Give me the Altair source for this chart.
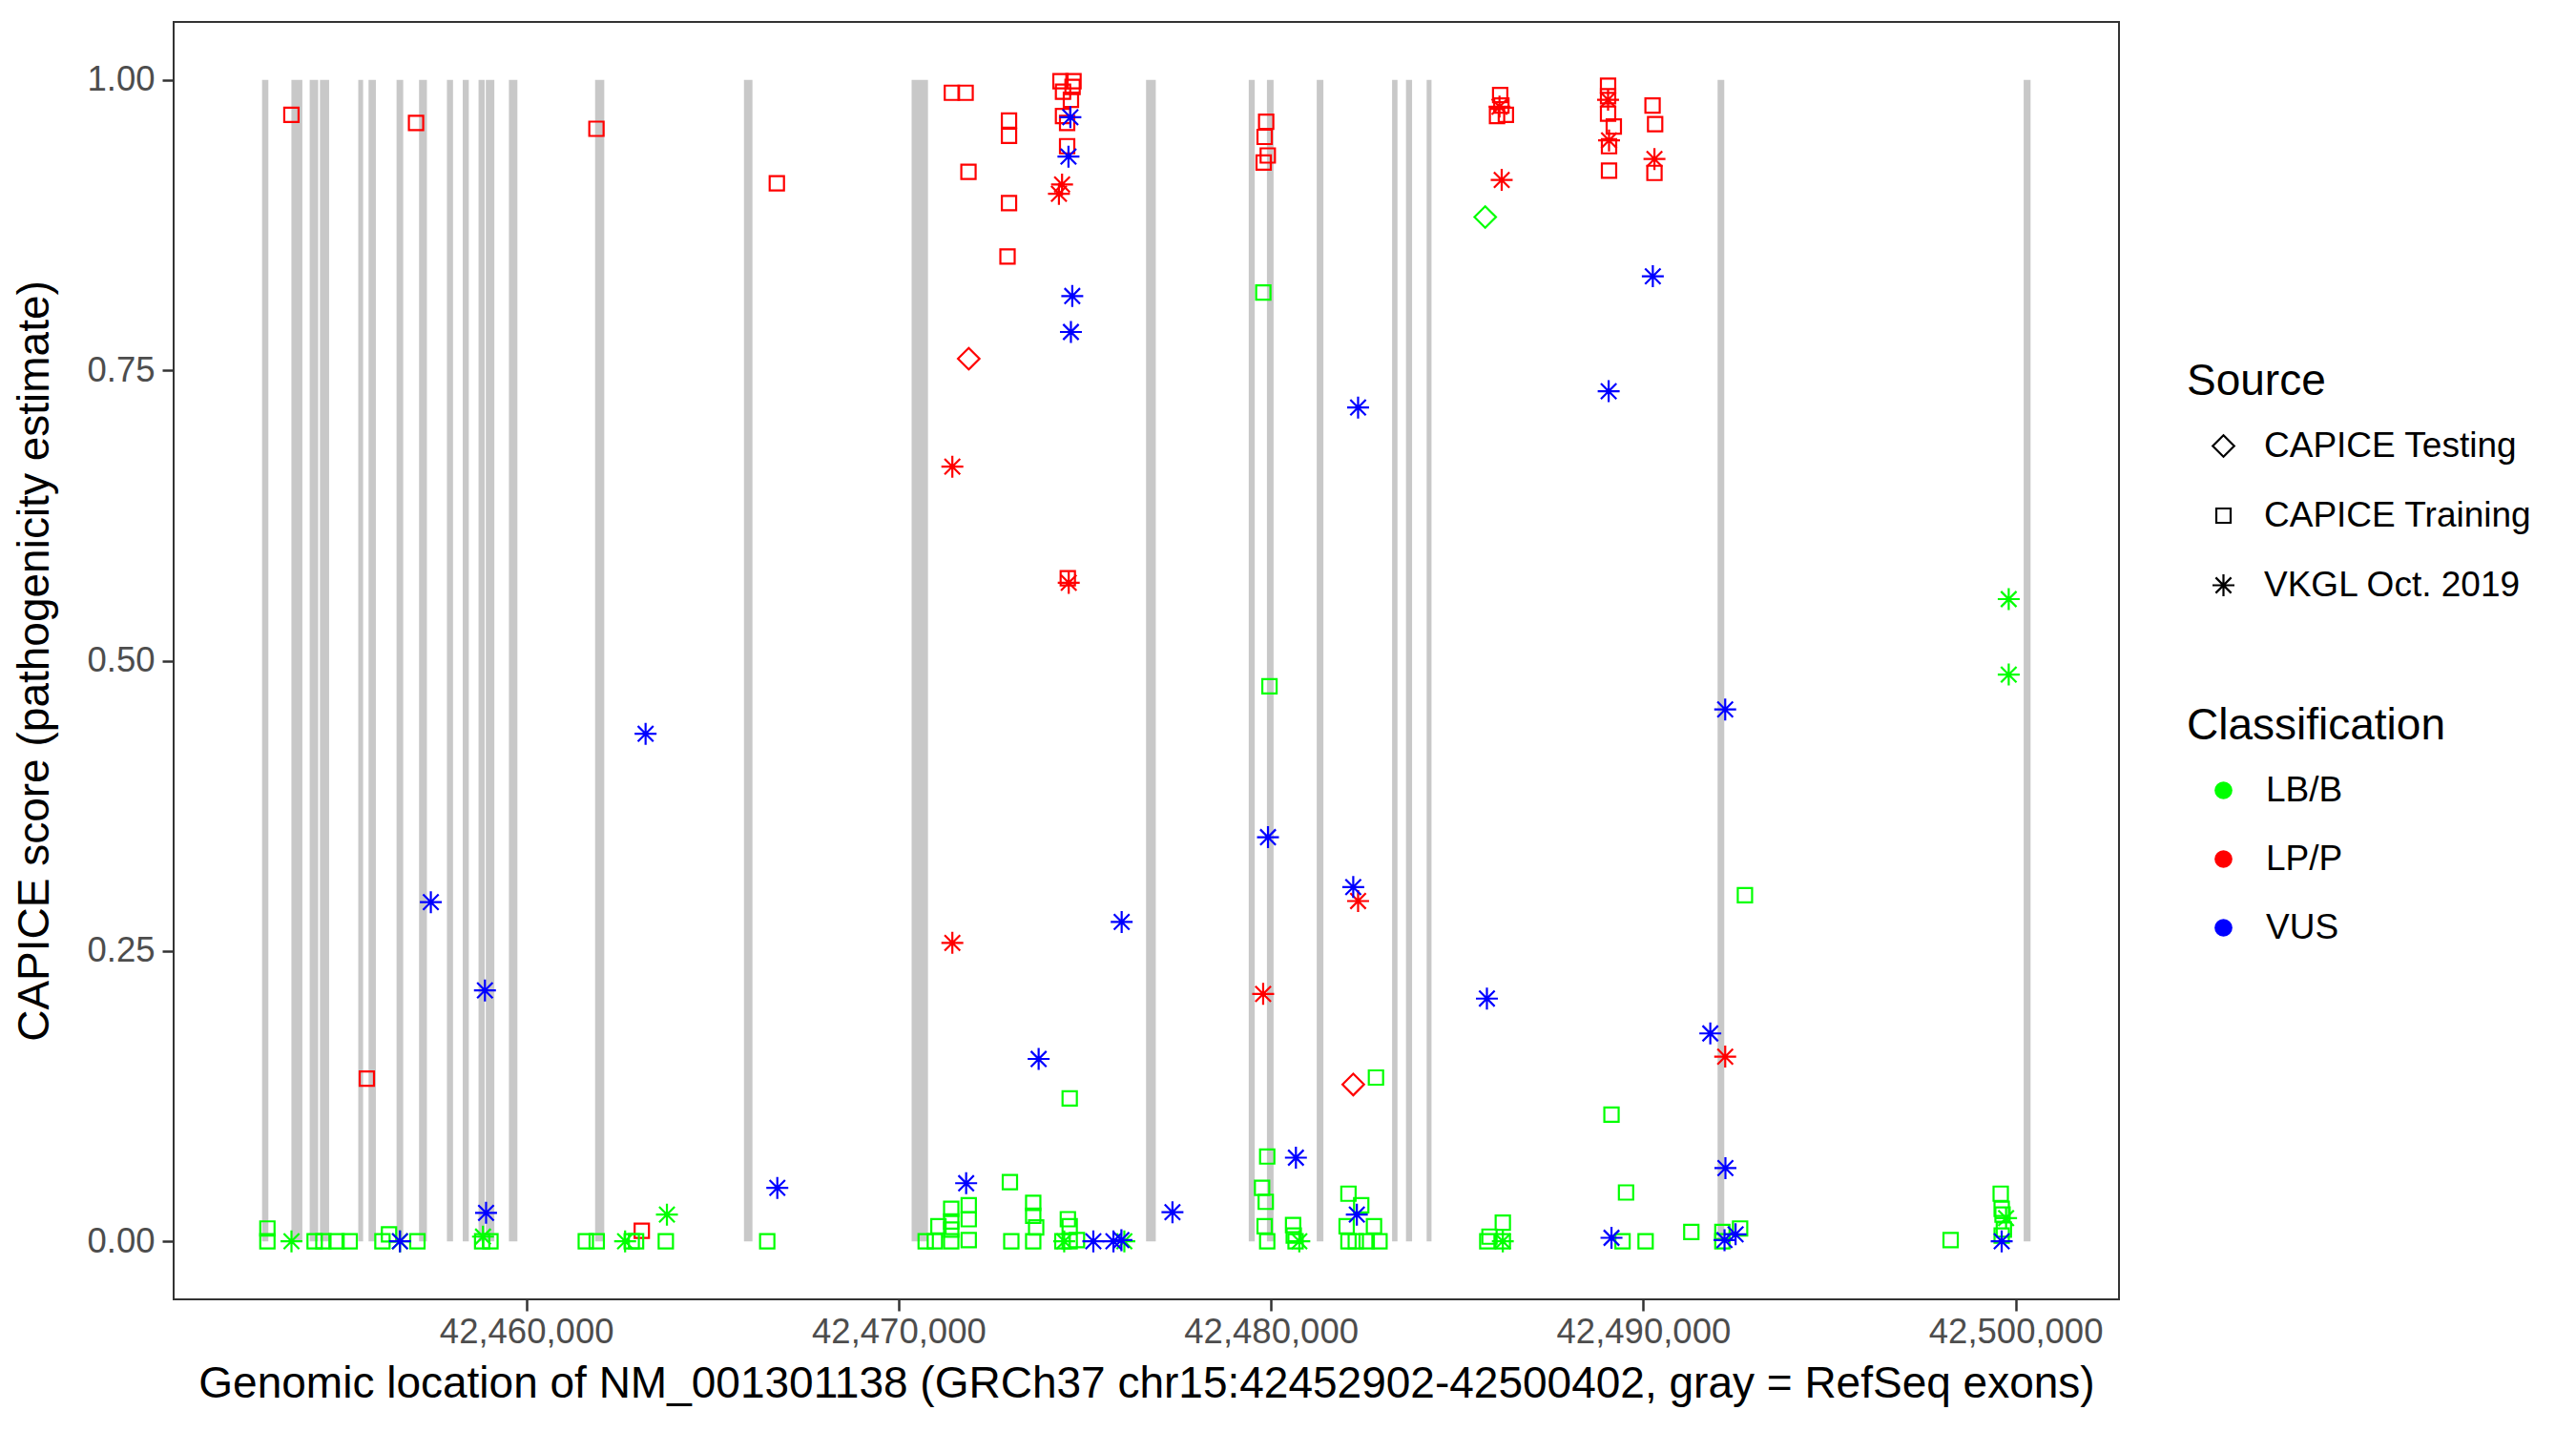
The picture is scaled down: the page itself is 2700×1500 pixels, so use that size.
import altair as alt
import pandas as pd

# ---- exons (RefSeq, gray bars) ----
exon_start = [42452902, 42453690, 42454181, 42454457, 42455486, 42455762, 42456514, 42457118,
              42457867, 42458292, 42458716, 42458911, 42459532, 42461847, 42465845, 42470348,
              42476645, 42479403, 42479891, 42481229, 42483253, 42483626, 42484181, 42491996,
              42500217]
exon_end = [42453071, 42453984, 42454409, 42454703, 42455616, 42455959, 42456693, 42457330,
            42458031, 42458455, 42458880, 42459141, 42459760, 42462093, 42466073, 42470788,
            42476906, 42479564, 42480070, 42481408, 42483398, 42483790, 42484312, 42492175,
            42500402]

# ---- CAPICE Training, LP/P ----
tr_lpp_pos = [42453690, 42457038, 42461883, 42466728, 42455716, 42463101,
              42471430, 42471798, 42472964, 42472964, 42471875, 42472964, 42472924,
              42474346, 42474696, 42474415, 42474671, 42474627, 42474415, 42474525, 42474525,
              42474543,
              42479871, 42479830, 42479914, 42479804,
              42486156, 42486189, 42486072, 42486309,
              42489054, 42489054, 42489054, 42489208, 42489080, 42489080,
              42490249, 42490318, 42490300]
tr_lpp_score = [0.970, 0.963, 0.958, 0.911, 0.140, 0.009,
                0.989, 0.989, 0.965, 0.952, 0.921, 0.894, 0.848,
                0.999, 0.999, 0.990, 0.994, 0.983, 0.969, 0.963, 0.943,
                0.571,
                0.964, 0.951, 0.935, 0.929,
                0.987, 0.978, 0.969, 0.970,
                0.995, 0.986, 0.971, 0.960, 0.943, 0.922,
                0.978, 0.962, 0.920]

# ---- CAPICE Training, LB/B ----
tr_lbb_pos = [42453045, 42453045, 42454314, 42454549, 42454902, 42455255, 42456135, 42456312,
              42457074, 42458813, 42459036, 42461597, 42461891, 42462830, 42462947, 42463746,
              42466470,
              42470726, 42470972, 42471069, 42471412, 42471412, 42471412, 42471412, 42471882,
              42471882, 42471882, 42472988, 42473026, 42473614, 42473614, 42473693, 42473614,
              42474545, 42474594, 42474397, 42474594, 42474789,
              42479899, 42479761, 42479860, 42479830, 42479899,
              42480594, 42480612, 42480661,
              42482081, 42482424, 42482032, 42482767, 42482081, 42482278, 42482572, 42482915,
              42474594, 42479794, 42479960, 42482820, 42492730, 42489146,
              42485810, 42485869, 42486227, 42486227, 42489537, 42489443, 42490062, 42491290,
              42492124, 42492124, 42492600, 42498255, 42499600, 42499626, 42499649, 42499685,
              42499626]
tr_lbb_score = [0.011, 0.0, 0.0, 0.0, 0.0, 0.0, 0.0, 0.006,
                0.0, 0.0, 0.0, 0.0, 0.0, 0.0, 0.0, 0.0,
                0.0,
                0.0, 0.0, 0.013, 0.028, 0.017, 0.010, 0.0, 0.031,
                0.019, 0.001, 0.051, 0.0, 0.033, 0.022, 0.012, 0.0,
                0.019, 0.013, 0.0, 0.0, 0.001,
                0.073, 0.046, 0.034, 0.013, 0.0,
                0.014, 0.005, 0.0,
                0.041, 0.031, 0.013, 0.013, 0.0, 0.0, 0.0, 0.0,
                0.123, 0.817, 0.478, 0.141, 0.298, 0.109,
                0.0, 0.004, 0.016, 0.0, 0.042, 0.0, 0.0, 0.008,
                0.0, 0.008, 0.011, 0.001, 0.041, 0.028, 0.023, 0.010,
                0.005]

# ---- VKGL Oct. 2019, LP/P ----
vk_lpp_pos = [42474389, 42474305, 42474568, 42471442, 42471442, 42479790, 42482340,
              42486138, 42486197, 42489054, 42489080, 42490300, 42492200]
vk_lpp_score = [0.910, 0.902, 0.567, 0.667, 0.257, 0.213, 0.293,
                0.977, 0.914, 0.983, 0.948, 0.932, 0.159]

# ---- VKGL Oct. 2019, LB/B ----
vk_lbb_pos = [42453692, 42456606, 42458836, 42462653, 42463776, 42474446, 42476062,
              42480761, 42486227, 42499744, 42499815, 42499815]
vk_lbb_score = [0.0, 0.0, 0.004, 0.0, 0.023, 0.0, 0.0,
                0.0, 0.0, 0.020, 0.553, 0.488]

# ---- VKGL Oct. 2019, VUS ----
vk_vus_pos = [42456606, 42457435, 42458888, 42458918, 42463203, 42466741, 42471813, 42473760,
              42474612, 42474561, 42474663, 42474627, 42475229, 42475769, 42475983, 42475990,
              42477354, 42479920, 42480670, 42482340, 42482210, 42482306, 42485800, 42489070,
              42490256, 42489146, 42491800, 42492200, 42492206, 42492182, 42492479, 42499626]
vk_vus_score = [0.0, 0.292, 0.216, 0.0245, 0.437, 0.046, 0.050, 0.157,
                0.968, 0.934, 0.814, 0.783, 0.0, 0.0, 0.001, 0.275,
                0.025, 0.348, 0.072, 0.718, 0.305, 0.023, 0.209, 0.732,
                0.831, 0.003, 0.179, 0.458, 0.063, 0.001, 0.006, 0.0]

# ---- CAPICE Testing ----
te_lpp_pos = [42471882, 42482210]
te_lpp_score = [0.760, 0.135]
te_lbb_pos = [42485754]
te_lbb_score = [0.882]

src_names = ["CAPICE Testing", "CAPICE Training", "VKGL Oct. 2019"]
cls_names = ["LB/B", "LP/P", "VUS"]
cls_colors = ["#00FF00", "#FF0000", "#0000FF"]

groups = [
    (tr_lpp_pos, tr_lpp_score, "CAPICE Training", "LP/P"),
    (tr_lbb_pos, tr_lbb_score, "CAPICE Training", "LB/B"),
    (vk_lpp_pos, vk_lpp_score, "VKGL Oct. 2019", "LP/P"),
    (vk_lbb_pos, vk_lbb_score, "VKGL Oct. 2019", "LB/B"),
    (vk_vus_pos, vk_vus_score, "VKGL Oct. 2019", "VUS"),
    (te_lpp_pos, te_lpp_score, "CAPICE Testing", "LP/P"),
    (te_lbb_pos, te_lbb_score, "CAPICE Testing", "LB/B"),
]
rows = []
for p, s, src, cls in groups:
    for a, b in zip(p, s):
        rows.append({"pos": a, "score": b, "source": src, "cls": cls, "Classification": cls})
df = pd.DataFrame(rows)
exon_df = pd.DataFrame({"start": exon_start, "end": exon_end,
                        "lo": [0.0] * len(exon_start), "hi": [1.0] * len(exon_start)})

FONT = "Liberation Sans"
x_scale = alt.Scale(domain=[42450527, 42502777], nice=False, zero=False)
y_scale = alt.Scale(domain=[-0.05, 1.05], nice=False, zero=False)
x_axis = alt.Axis(values=[42460000, 42470000, 42480000, 42490000, 42500000], format=",d",
                  labelPadding=4, titlePadding=14, labelLimit=1000)
y_axis = alt.Axis(values=[0, 0.25, 0.5, 0.75, 1.0], format=".2f", labelPadding=8, titlePadding=30)
x_title = "Genomic location of NM_001301138 (GRCh37 chr15:42452902-42500402, gray = RefSeq exons)"
y_title = "CAPICE score (pathogenicity estimate)"

diamond = "M0,-0.98L0.98,0L0,0.98L-0.98,0Z"
square = "M-0.652,-0.652L0.652,-0.652L0.652,0.652L-0.652,0.652Z"
asterisk = "M-1,0L1,0M0,-1L0,1M-0.707,-0.707L0.707,0.707M-0.707,0.707L0.707,-0.707"

exons = alt.Chart(exon_df).mark_rect(color="#C8C8C8").encode(
    x=alt.X("start:Q", scale=x_scale, axis=x_axis, title=x_title),
    x2="end:Q",
    y=alt.Y("lo:Q", scale=y_scale, axis=y_axis, title=y_title),
    y2="hi:Q",
)

pts = alt.Chart(df).mark_point(filled=False, size=529, strokeWidth=2.2, opacity=1).encode(
    x=alt.X("pos:Q", scale=x_scale),
    y=alt.Y("score:Q", scale=y_scale),
    shape=alt.Shape("source:N",
                    scale=alt.Scale(domain=src_names, range=[diamond, square, asterisk]),
                    legend=alt.Legend(title="Source", orient="none", legendX=2110, legendY=355,
                                      symbolSize=529, symbolStrokeColor="black",
                                      symbolFillColor="transparent", symbolStrokeWidth=2.2,
                                      rowPadding=35, titlePadding=25, symbolOffset=20,
                                      labelOffset=24, labelLimit=600, titleLimit=800)),
    color=alt.Color("cls:N", scale=alt.Scale(domain=cls_names, range=cls_colors), legend=None),
)

dummy = alt.Chart(df).mark_circle(opacity=0, size=350).encode(
    x=alt.X("pos:Q", scale=x_scale),
    y=alt.Y("score:Q", scale=y_scale),
    fill=alt.Fill("Classification:N", scale=alt.Scale(range=cls_colors),
                  legend=alt.Legend(title="Classification", orient="none", legendX=2110,
                                    legendY=716, symbolType="circle", symbolSize=350,
                                    symbolOpacity=1, symbolStrokeWidth=0,
                                    rowPadding=34, titlePadding=25, symbolOffset=20,
                                    labelOffset=26, labelLimit=600, titleLimit=800)),
)

chart = alt.layer(exons, pts, dummy).resolve_scale(fill="independent").properties(
    width=2039, height=1339,
    padding={"left": 174, "top": 15, "right": 470, "bottom": 130},
    autosize=alt.AutoSizeParams(type="none"),
    background="white",
).configure_view(
    stroke="#333333", strokeWidth=2
).configure_axis(
    grid=False, domain=False, ticks=True, tickColor="#333333", tickWidth=2.5, tickSize=12,
    labelColor="#4D4D4D", labelFont=FONT, labelFontSize=36.5,
    titleColor="black", titleFont=FONT, titleFontSize=46, titleFontWeight="normal",
).configure_legend(
    titleFont=FONT, titleFontSize=46, titleFontWeight="normal", titleColor="black",
    labelFont=FONT, labelFontSize=37, labelColor="black", titleLimit=800,
)

chart.save("out.html", embed_options={"renderer": "svg", "actions": False})
